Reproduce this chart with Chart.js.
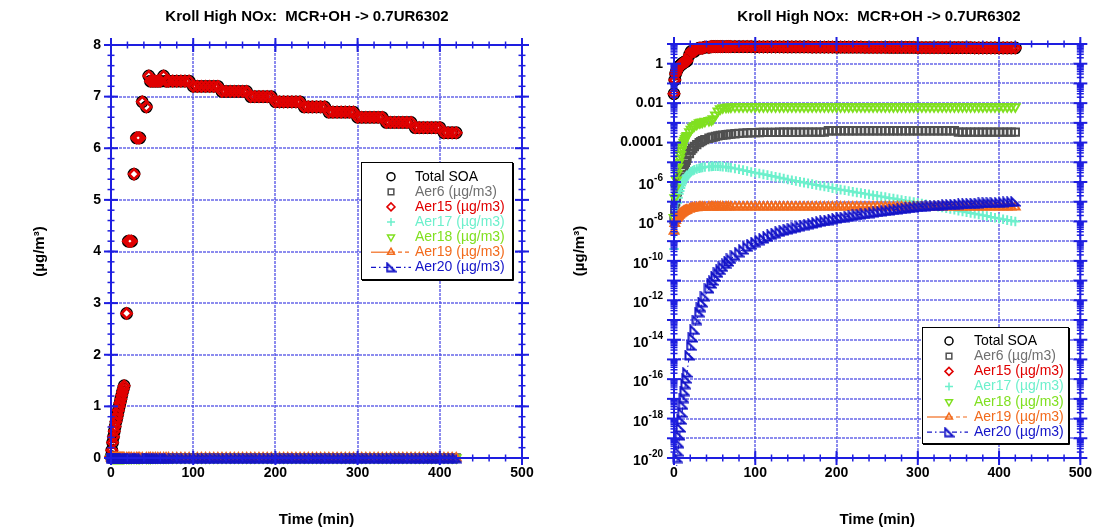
<!DOCTYPE html>
<html>
<head>
<meta charset="utf-8">
<script src="https://cdn.jsdelivr.net/npm/chart.js@4.4.1/dist/chart.umd.min.js"></script>
<style>
  html, body { margin: 0; padding: 0; background: #fff; }
  #wrap { position: relative; width: 1099px; height: 529px; }
  .pane { position: absolute; top: 0; height: 529px; }
  #paneL { left: 0; width: 549px; }
  #paneR { left: 549px; width: 550px; }
</style>
</head>
<body>
<div id="wrap">
  <div class="pane" id="paneL"><canvas id="chartLinear"></canvas></div>
  <div class="pane" id="paneR"><canvas id="chartLog"></canvas></div>
</div>
<script>
// time axis (min) - dense at the start, every 5 min after 70
const timeMin = [0,1,2,3,4,5,6,7,8,9,10,11,12,13,14,15,16,
  19,21,23,25,28,31,33,35,38,43,46,48,51,54,57,60,64,67,
  70,75,80,85,90,95,100,105,110,115,
  120,125,130,135,140,145,150,155,160,165,
  170,175,180,185,190,195,200,205,210,215,
  220,225,230,235,240,245,250,255,260,265,
  270,275,280,285,290,295,300,305,310,315,
  320,325,330,335,340,345,350,355,360,365,
  370,375,380,385,390,395,400,405,410,415,
  420];

// µg/m3
const totalSoa = [0.03,0.15,0.3,0.41,0.52,0.61,0.7,0.77,0.84,0.92,1.0,1.07,1.14,1.21,1.28,1.34,1.4,
  2.8,4.2,4.2,4.2,5.5,6.2,6.2,6.2,6.9,6.8,7.4,7.3,7.3,7.3,7.3,7.3,7.4,7.3,
  7.3,7.3,7.3,7.3,7.3,7.3,7.2,7.2,7.2,7.2,
  7.2,7.2,7.2,7.1,7.1,7.1,7.1,7.1,7.1,7.1,
  7.0,7.0,7.0,7.0,7.0,7.0,6.9,6.9,6.9,6.9,
  6.9,6.9,6.9,6.8,6.8,6.8,6.8,6.8,6.8,6.7,
  6.7,6.7,6.7,6.7,6.7,6.7,6.6,6.6,6.6,6.6,
  6.6,6.6,6.6,6.5,6.5,6.5,6.5,6.5,6.5,6.5,
  6.4,6.4,6.4,6.4,6.4,6.4,6.4,6.3,6.3,6.3,
  6.3];

const aer6 = [1.26e-8,4.0e-8,1.0e-7,1.8e-7,3.2e-7,5.0e-7,7.9e-7,1.12e-6,1.6e-6,2.2e-6,3.2e-6,4.0e-6,5.6e-6,7.9e-6,1.0e-5,1.26e-5,1.6e-5,
  2.8e-5,4.0e-5,5.0e-5,6.3e-5,7.9e-5,1.0e-4,1.12e-4,1.26e-4,1.41e-4,1.66e-4,1.82e-4,1.9e-4,2.04e-4,2.2e-4,2.3e-4,2.4e-4,2.5e-4,2.6e-4,
  2.7e-4,2.8e-4,2.95e-4,3.0e-4,3.1e-4,3.15e-4,3.2e-4,3.25e-4,3.3e-4,3.3e-4,
  3.3e-4,3.3e-4,3.35e-4,3.35e-4,3.35e-4,3.35e-4,3.35e-4,3.35e-4,3.4e-4,3.4e-4,
  3.4e-4,3.4e-4,3.4e-4,3.4e-4,4.0e-4,4.0e-4,4.0e-4,4.0e-4,4.0e-4,4.0e-4,
  4.0e-4,4.0e-4,4.0e-4,4.0e-4,4.0e-4,4.0e-4,4.0e-4,4.0e-4,4.0e-4,4.0e-4,
  4.0e-4,4.0e-4,4.0e-4,4.0e-4,4.0e-4,4.0e-4,4.0e-4,4.0e-4,4.0e-4,4.0e-4,
  4.0e-4,4.0e-4,4.0e-4,4.0e-4,4.0e-4,4.0e-4,3.4e-4,3.4e-4,3.4e-4,3.4e-4,
  3.4e-4,3.4e-4,3.4e-4,3.4e-4,3.4e-4,3.4e-4,3.4e-4,3.4e-4,3.4e-4,3.4e-4,
  3.4e-4];

// Aer15 holds practically all of the SOA: same readings as the total
const aer15 = totalSoa;

const aer17 = [4.0e-10,2.5e-9,1.26e-8,4.0e-8,8.9e-8,1.6e-7,2.5e-7,3.5e-7,5.0e-7,6.6e-7,8.5e-7,1.05e-6,1.26e-6,1.48e-6,1.7e-6,1.95e-6,2.2e-6,
  2.8e-6,3.3e-6,3.7e-6,4.1e-6,4.6e-6,5.0e-6,5.25e-6,5.5e-6,5.75e-6,6.0e-6,6.2e-6,6.3e-6,6.3e-6,6.3e-6,6.2e-6,6.0e-6,5.75e-6,5.5e-6,
  5.25e-6,4.8e-6,4.4e-6,3.98e-6,3.63e-6,3.24e-6,2.95e-6,2.69e-6,2.45e-6,2.24e-6,
  2.0e-6,1.82e-6,1.66e-6,1.51e-6,1.35e-6,1.23e-6,1.12e-6,1.02e-6,9.3e-7,8.5e-7,
  7.8e-7,7.1e-7,6.5e-7,5.9e-7,5.4e-7,4.9e-7,4.5e-7,4.1e-7,3.8e-7,3.5e-7,
  3.2e-7,2.95e-7,2.75e-7,2.5e-7,2.35e-7,2.14e-7,2.0e-7,1.82e-7,1.7e-7,1.55e-7,
  1.45e-7,1.32e-7,1.23e-7,1.12e-7,1.05e-7,9.5e-8,8.9e-8,8.1e-8,7.4e-8,6.8e-8,
  6.2e-8,5.6e-8,5.1e-8,4.7e-8,4.3e-8,3.9e-8,3.5e-8,3.2e-8,2.95e-8,2.7e-8,
  2.45e-8,2.24e-8,2.04e-8,1.86e-8,1.7e-8,1.55e-8,1.41e-8,1.29e-8,1.17e-8,1.07e-8,
  1.0e-8];

const aer18 = [1.6e-8,1.6e-7,5.0e-7,1.26e-6,2.8e-6,5.6e-6,1.0e-5,1.6e-5,2.5e-5,4.0e-5,5.6e-5,7.9e-5,1.05e-4,1.3e-4,1.6e-4,1.95e-4,2.3e-4,
  3.5e-4,4.7e-4,6.0e-4,7.1e-4,8.5e-4,1.0e-3,1.07e-3,1.12e-3,1.2e-3,1.32e-3,1.4e-3,1.6e-3,2.5e-3,4.0e-3,5.2e-3,5.9e-3,6.2e-3,6.3e-3,
  6.4e-3,6.5e-3,6.5e-3,6.5e-3,6.5e-3,6.5e-3,6.5e-3,6.5e-3,6.5e-3,6.5e-3,
  6.5e-3,6.5e-3,6.5e-3,6.5e-3,6.5e-3,6.5e-3,6.5e-3,6.5e-3,6.5e-3,6.5e-3,
  6.5e-3,6.5e-3,6.5e-3,6.5e-3,6.5e-3,6.5e-3,6.5e-3,6.5e-3,6.5e-3,6.5e-3,
  6.5e-3,6.5e-3,6.5e-3,6.5e-3,6.5e-3,6.5e-3,6.5e-3,6.5e-3,6.5e-3,6.5e-3,
  6.5e-3,6.5e-3,6.5e-3,6.5e-3,6.5e-3,6.5e-3,6.5e-3,6.5e-3,6.5e-3,6.5e-3,
  6.5e-3,6.5e-3,6.5e-3,6.5e-3,6.5e-3,6.5e-3,6.5e-3,6.5e-3,6.5e-3,6.5e-3,
  6.5e-3,6.5e-3,6.5e-3,6.5e-3,6.5e-3,6.5e-3,6.5e-3,6.5e-3,6.5e-3,6.5e-3,
  6.5e-3];

const aer19 = [3.2e-9,7.9e-9,1.1e-8,1.4e-8,1.6e-8,1.8e-8,2.0e-8,2.2e-8,2.4e-8,2.6e-8,2.75e-8,2.95e-8,3.2e-8,3.3e-8,3.5e-8,3.6e-8,3.8e-8,
  4.2e-8,4.5e-8,4.7e-8,4.9e-8,5.0e-8,5.2e-8,5.25e-8,5.3e-8,5.3e-8,5.35e-8,5.35e-8,5.4e-8,5.4e-8,5.4e-8,5.4e-8,5.4e-8,5.4e-8,5.4e-8,
  5.4e-8,5.4e-8,5.4e-8,5.4e-8,5.4e-8,5.4e-8,5.4e-8,5.4e-8,5.4e-8,5.4e-8,
  5.4e-8,5.4e-8,5.4e-8,5.4e-8,5.4e-8,5.4e-8,5.4e-8,5.4e-8,5.4e-8,5.4e-8,
  5.4e-8,5.4e-8,5.4e-8,5.4e-8,5.4e-8,5.4e-8,5.4e-8,5.4e-8,5.4e-8,5.4e-8,
  5.4e-8,5.4e-8,5.4e-8,5.4e-8,5.4e-8,5.4e-8,5.4e-8,5.4e-8,5.4e-8,5.4e-8,
  5.4e-8,5.4e-8,5.4e-8,5.4e-8,5.4e-8,5.4e-8,5.4e-8,5.4e-8,5.4e-8,5.4e-8,
  5.4e-8,5.4e-8,5.4e-8,5.4e-8,5.4e-8,5.4e-8,5.4e-8,5.4e-8,5.4e-8,5.4e-8,
  5.4e-8,5.4e-8,5.4e-8,5.4e-8,5.4e-8,5.4e-8,5.4e-8,5.4e-8,5.4e-8,5.4e-8,
  5.4e-8];

const aer20 = [1e-24,1e-23,1e-22,2.5e-21,1.0e-20,2.2e-20,5.6e-20,1.4e-19,3.5e-19,8.9e-19,2.0e-18,5.0e-18,1.1e-17,2.5e-17,5.6e-17,1.1e-16,2.2e-16,
  1.6e-15,5.0e-15,1.3e-14,3.2e-14,1.0e-13,2.5e-13,4.5e-13,7.9e-13,1.6e-12,4.0e-12,7.1e-12,1.0e-11,1.6e-11,2.5e-11,3.5e-11,5.0e-11,7.1e-11,9.3e-11,
  1.26e-10,1.9e-10,2.75e-10,3.8e-10,5.25e-10,6.9e-10,8.9e-10,1.12e-9,1.38e-9,1.7e-9,
  2.1e-9,2.5e-9,3.0e-9,3.5e-9,4.0e-9,4.5e-9,5.0e-9,5.75e-9,6.5e-9,7.2e-9,
  7.9e-9,8.9e-9,9.8e-9,1.07e-8,1.17e-8,1.29e-8,1.41e-8,1.55e-8,1.66e-8,1.82e-8,
  1.95e-8,2.14e-8,2.29e-8,2.45e-8,2.63e-8,2.82e-8,3.02e-8,3.24e-8,3.47e-8,3.63e-8,
  3.89e-8,4.17e-8,4.37e-8,4.68e-8,4.9e-8,5.25e-8,5.5e-8,5.75e-8,5.9e-8,6.2e-8,
  6.3e-8,6.6e-8,6.8e-8,7.1e-8,7.2e-8,7.4e-8,7.6e-8,7.8e-8,7.9e-8,8.1e-8,
  8.3e-8,8.5e-8,8.7e-8,8.9e-8,8.9e-8,9.1e-8,9.3e-8,9.5e-8,9.8e-8,1.0e-7,
  1.02e-7];

const TITLE = "Kroll High NOx:  MCR+OH -> 0.7UR6302";
const FONT = '"Liberation Sans", Arial, Helvetica, sans-serif';
const AXIS_BLUE = "#1e1ee0";
const GRID_BLUE = "rgba(70,70,228,0.62)";

Chart.defaults.font.family = FONT;
Chart.defaults.color = "#000";

// right-angle triangle marker for Aer20
function rightTri(color, size){
  const c = document.createElement("canvas");
  c.width = c.height = size;
  const g = c.getContext("2d");
  g.strokeStyle = color; g.lineWidth = 2;
  g.beginPath();
  g.moveTo(1.5, 1.5); g.lineTo(1.5, size - 1.5); g.lineTo(size - 1.5, size - 1.5); g.closePath();
  g.stroke();
  return c;
}

const SERIES = [
  { label: "Total SOA",     values: totalSoa, color: "#000000", text: "#000000", style: "circle",   radius: 5.6, width: 1.6 },
  { label: "Aer6 (µg/m3)",  values: aer6,     color: "#505050", text: "#707070", style: "rect",     radius: 5.2, width: 2 },
  { label: "Aer15 (µg/m3)", values: aer15,    color: "#e00000", text: "#e00000", style: "rectRot",  radius: 5,   width: 2.6 },
  { label: "Aer17 (µg/m3)", values: aer17,    color: "#6df0cc", text: "#6df0cc", style: "cross",    radius: 4.8, width: 2 },
  { label: "Aer18 (µg/m3)", values: aer18,    color: "#80e020", text: "#80e020", style: "triangle", radius: 5,   width: 2, rot: 180 },
  { label: "Aer19 (µg/m3)", values: aer19,    color: "#f26b1d", text: "#f26b1d", style: "triangle", radius: 5,   width: 2, line: true, legendDash: "half" },
  { label: "Aer20 (µg/m3)", values: aer20,    color: "#1414c8", text: "#1414c8", style: rightTri("#1414c8", 11), radius: 5, width: 1.5, line: true, dash: [5,3,1.5,3] }
];

function buildDatasets(){
  return SERIES.map((s, i) => ({
    label: s.label,
    data: timeMin.map((t, k) => ({ x: t, y: s.values[k] })),
    order: SERIES.length - 1 - i,
    pointStyle: s.style,
    pointRotation: s.rot || 0,
    pointRadius: s.radius,
    pointBorderWidth: s.width,
    pointBorderColor: s.color,
    pointBackgroundColor: "rgba(0,0,0,0)",
    borderColor: s.color,
    borderWidth: 1,
    borderDash: s.dash || [],
    showLine: !!s.line,
    clip: 8
  }));
}

function steps(a, b, s){
  const r = [];
  for(let v = a; v <= b + 1e-9; v += s) r.push(+v.toFixed(6));
  return r;
}
const decades = steps(-20, 1, 1).map(k => Number("1e" + k));
const logMinor = [];
steps(-20, 0, 1).forEach(k => { for(let m = 2; m <= 9; m++) logMinor.push(Number(m + "e" + k)); });

// frame on all four sides, ticks crossing the frame, like the original
const frameTicks = {
  id: "frameTicks",
  afterDatasetsDraw(chart, args, o){
    const { ctx, chartArea: a } = chart;
    const xs = chart.scales.x, ys = chart.scales.y;
    ctx.save();
    ctx.strokeStyle = AXIS_BLUE;
    const seg = (x1, y1, x2, y2) => { ctx.beginPath(); ctx.moveTo(x1, y1); ctx.lineTo(x2, y2); ctx.stroke(); };
    const tx = (vals, len, w) => {
      ctx.lineWidth = w;
      vals.forEach(v => { const p = xs.getPixelForValue(v); seg(p, a.top - len, p, a.top + len); seg(p, a.bottom - len, p, a.bottom + len); });
    };
    const ty = (vals, len, w) => {
      ctx.lineWidth = w;
      vals.forEach(v => { const p = ys.getPixelForValue(v); seg(a.left - len, p, a.left + len, p); seg(a.right - len, p, a.right + len, p); });
    };
    tx(o.xMinor, 3.5, 1.5); tx(o.xMajor, 7, 2);
    ty(o.yMinor, 3.5, 1.5); ty(o.yMajor, 7, 2);
    ctx.lineWidth = 2;
    ctx.strokeRect(a.left, a.top, a.right - a.left, a.bottom - a.top);

    // power-of-ten labels with a raised exponent
    if(o.powerLabels){
      ctx.fillStyle = "#000";
      ctx.textBaseline = "alphabetic";
      ctx.textAlign = "left";
      o.powerLabels.forEach(v => {
        const k = Math.round(Math.log10(v));
        const p = ys.getPixelForValue(v);
        const exp = String(k);
        ctx.font = "bold 10px " + FONT;
        const ew = ctx.measureText(exp).width;
        ctx.font = "bold 14px " + FONT;
        const bw = ctx.measureText("10").width;
        const xEnd = a.left - 11;
        ctx.fillText("10", xEnd - ew - bw, p + 7);
        ctx.font = "bold 10px " + FONT;
        ctx.fillText(exp, xEnd - ew, p - 1);
      });
    }
    ctx.restore();
  }
};

const boxLegend = {
  id: "boxLegend",
  afterDraw(chart, args, o){
    const ctx = chart.ctx;
    ctx.save();
    ctx.fillStyle = "#fff";
    ctx.fillRect(o.x, o.y, o.w, o.h);
    ctx.strokeStyle = "#000"; ctx.lineWidth = 1;
    ctx.strokeRect(o.x + 0.5, o.y + 0.5, o.w, o.h);
    ctx.beginPath();
    ctx.moveTo(o.x + o.w + 1.5, o.y + 1); ctx.lineTo(o.x + o.w + 1.5, o.y + o.h + 1.5); ctx.lineTo(o.x + 1, o.y + o.h + 1.5);
    ctx.stroke();
    ctx.font = "14px " + FONT;
    ctx.textBaseline = "middle";
    ctx.textAlign = "left";
    chart.data.datasets.forEach((ds, i) => {
      const s = SERIES[i];
      const cy = o.y + o.row0 + i * o.step;
      const cx = o.x + o.sym;
      if(s.line){
        ctx.strokeStyle = s.color; ctx.lineWidth = 1.2;
        if(s.legendDash === "half"){
          ctx.setLineDash([]); ctx.beginPath(); ctx.moveTo(o.x + o.l0, cy); ctx.lineTo(cx, cy); ctx.stroke();
          ctx.setLineDash([4, 3]); ctx.beginPath(); ctx.moveTo(cx, cy); ctx.lineTo(o.x + o.l1, cy); ctx.stroke();
        } else {
          ctx.setLineDash(s.dash || []); ctx.beginPath(); ctx.moveTo(o.x + o.l0, cy); ctx.lineTo(o.x + o.l1, cy); ctx.stroke();
        }
        ctx.setLineDash([]);
      }
      ctx.strokeStyle = s.color; ctx.fillStyle = "rgba(0,0,0,0)"; ctx.lineWidth = 1.5;
      Chart.helpers.drawPoint(ctx, { pointStyle: s.style, rotation: s.rot || 0, radius: 4, borderWidth: 1.5 }, cx, cy);
      ctx.fillStyle = s.text;
      ctx.fillText(s.label, o.x + o.txt, cy);
    });
    ctx.restore();
  }
};

const plotTitle = {
  id: "plotTitle",
  afterDraw(chart, args, o){
    const ctx = chart.ctx;
    ctx.save();
    ctx.font = "bold 15px " + FONT;
    ctx.fillStyle = "#000";
    ctx.textAlign = "center"; ctx.textBaseline = "middle";
    ctx.fillText(TITLE, o.x, o.y);
    ctx.restore();
  }
};

function logLabel(v){
  const k = Math.round(Math.log10(v));
  if(k === 0) return "1";
  if(k === -2) return "0.01";
  if(k === -4) return "0.0001";
  return "";
}

const tickFont = { size: 14, weight: "bold" };
const titleFont = { size: 15, weight: "bold" };
const gridOpts = { color: GRID_BLUE, lineWidth: 2, drawTicks: false };
const borderOpts = { display: false, dash: [3, 1] };

function xScale(height){
  return {
    type: "linear", min: 0, max: 500,
    ticks: { stepSize: 100, padding: 7, font: tickFont, color: "#000", maxRotation: 0, autoSkip: false },
    grid: gridOpts, border: borderOpts,
    title: { display: true, text: "Time (min)", font: titleFont, color: "#000", padding: { top: 0, bottom: 0 } },
    afterFit(s){ s.height = height; }
  };
}

function commonOptions(padding, yScaleCfg, plugins){
  return {
    responsive: true, maintainAspectRatio: false, animation: false, devicePixelRatio: 1, events: [],
    layout: { padding },
    scales: { x: xScale(529 - 458), y: yScaleCfg },
    plugins: Object.assign({ legend: { display: false }, tooltip: { enabled: false } }, plugins)
  };
}

new Chart(document.getElementById("chartLinear"), {
  type: "scatter",
  data: { datasets: buildDatasets() },
  options: commonOptions({ top: 45, right: 27, left: 0, bottom: 0 }, {
    type: "linear", min: 0, max: 8,
    ticks: { stepSize: 1, padding: 10, font: tickFont, color: "#000", autoSkip: false },
    grid: gridOpts, border: borderOpts,
    title: { display: true, text: "(µg/m³)", font: titleFont, color: "#000", padding: { top: 31, bottom: 0 } },
    afterFit(s){ s.width = 111; }
  }, {
    frameTicks: { xMajor: steps(0, 500, 100), xMinor: steps(0, 500, 20), yMajor: steps(0, 8, 1), yMinor: steps(0, 8, 0.2) },
    boxLegend: { x: 361, y: 162, w: 151, h: 117, row0: 14.7, step: 15.1, sym: 30, l0: 10, l1: 50, txt: 54 },
    plotTitle: { x: 307, y: 17 }
  }),
  plugins: [frameTicks, boxLegend, plotTitle]
});

new Chart(document.getElementById("chartLog"), {
  type: "scatter",
  data: { datasets: buildDatasets() },
  options: commonOptions({ top: 44, right: 11, left: 0, bottom: 0 }, {
    type: "logarithmic", min: 1e-20, max: 10,
    afterBuildTicks(s){ s.ticks = decades.map(v => ({ value: v })); },
    ticks: { padding: 11, font: tickFont, color: "#000", autoSkip: false, callback: logLabel },
    grid: gridOpts, border: borderOpts,
    title: { display: true, text: "(µg/m³)", font: titleFont, color: "#000", padding: { top: 22, bottom: 0 } },
    afterFit(s){ s.width = 125; }
  }, {
    frameTicks: { xMajor: steps(0, 500, 100), xMinor: steps(0, 500, 20), yMajor: decades, yMinor: logMinor,
                  powerLabels: steps(-20, -6, 2).map(k => Number("1e" + k)) },
    boxLegend: { x: 373, y: 327, w: 146, h: 116, row0: 14, step: 15.2, sym: 27, l0: 5, l1: 46, txt: 52 },
    plotTitle: { x: 330, y: 17 }
  }),
  plugins: [frameTicks, boxLegend, plotTitle]
});
</script>
</body>
</html>
